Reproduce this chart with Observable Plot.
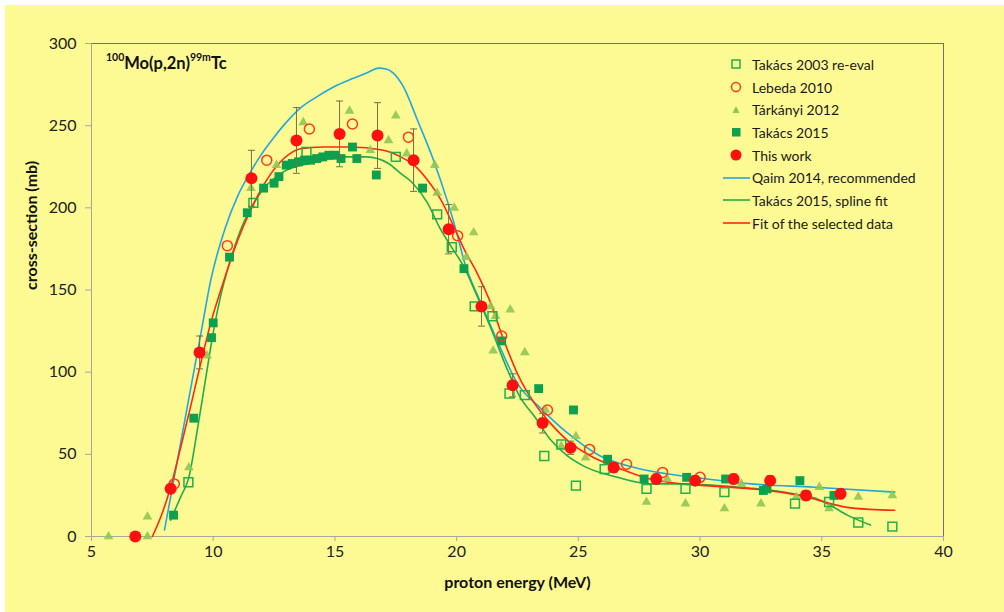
<!DOCTYPE html>
<html>
<head>
<meta charset="utf-8">
<script src="https://cdn.jsdelivr.net/npm/d3@7"></script>
<script src="https://cdn.jsdelivr.net/npm/@observablehq/plot@0.6"></script>
<style>
  html, body { margin: 0; padding: 0; background: #ffffff; }
  #wrap { position: relative; width: 1004px; height: 612px; overflow: hidden; font-family: Lato, "Open Sans", sans-serif; }
  #panel { position: absolute; left: 5px; top: 5px; right: 0; bottom: 0; background: #fdf993; }
  #chart { position: absolute; left: 0; top: 0; }
  #title { position: absolute; left: 106px; top: 52px; font-weight: bold; font-size: 16.5px; color: #111; white-space: nowrap; }
  #title sup { font-size: 10.5px; position: relative; top: -1px; }
  #legend { position: absolute; left: 722px; top: 53px; font-size: 14px; color: #1a1a1a; }
  #legend .row { height: 22.7px; display: flex; align-items: center; white-space: nowrap; }
  #legend svg { width: 28px; height: 14px; margin-right: 2px; }
</style>
</head>
<body>
<div id="wrap">
  <div id="panel"></div>
  <div id="chart"></div>
  <div id="title"><sup>100</sup>Mo(p,2n)<sup>99m</sup>Tc</div>
  <div id="legend"></div>
</div>
<script>
// Measured points: [energy (MeV), cross-section (mb)]
const takacs2003 = [
  [8.98, 33], [11.65, 203], [13.83, 234], [17.5, 231], [19.2, 196], [19.8, 176],
  [20.74, 140], [21.47, 134], [22.17, 87], [22.8, 86], [23.6, 49], [24.3, 56],
  [24.9, 31], [26.08, 41], [27.8, 29], [29.4, 29], [31.0, 27], [33.9, 20],
  [35.3, 21], [36.5, 8.5], [37.9, 6]
];
const lebeda2010 = [
  [8.4, 32], [10.58, 177], [12.2, 229], [13.95, 248], [15.72, 251], [18.02, 243],
  [20.04, 183], [21.85, 122], [23.73, 77], [25.46, 53], [26.98, 44], [28.46, 39], [30.0, 36]
];
const tarkanyi2012 = [
  [5.7, 0], [7.3, 0], [7.3, 12], [9.0, 42], [9.75, 110], [11.55, 212], [12.6, 226],
  [13.7, 252], [15.6, 259], [16.45, 235], [17.2, 241], [17.5, 256], [17.95, 233],
  [19.1, 226], [19.2, 209], [19.9, 200], [20.4, 170], [20.7, 185], [21.4, 140],
  [21.6, 134], [22.2, 138], [21.5, 113], [22.8, 112], [23.65, 77], [24.3, 55],
  [24.9, 61], [25.3, 48], [27.8, 21], [28.65, 35], [29.4, 20], [31.0, 17],
  [31.7, 32], [32.5, 20], [33.95, 24], [34.9, 30], [35.3, 17], [36.5, 24], [37.9, 25]
];
const takacs2015 = [
  [8.37, 13], [9.2, 72], [9.93, 121], [10.0, 130], [10.67, 170], [11.4, 197],
  [12.07, 212], [12.5, 215], [12.7, 219], [13.0, 226], [13.25, 227], [13.5, 228],
  [13.75, 229], [14.0, 229], [14.25, 230], [14.5, 231], [14.75, 232], [15.0, 232],
  [15.25, 230], [15.72, 237], [15.9, 230], [16.7, 220], [18.6, 212], [20.3, 163],
  [21.85, 119], [23.37, 90], [24.8, 77], [26.2, 47], [27.7, 35], [29.45, 36],
  [31.05, 35], [32.6, 28], [32.75, 29], [34.1, 34], [35.5, 25]
];
// This work: [energy, cross-section, uncertainty]
const thisWork = [
  [6.8, 0, 0], [8.25, 29, 2], [9.44, 112, 10], [11.57, 218, 17], [13.42, 241, 20],
  [15.19, 245, 20], [16.75, 244, 20], [18.23, 229, 19], [19.67, 187, 15],
  [21.02, 140, 12], [22.3, 92, 7], [23.53, 69, 6], [24.68, 54, 4], [26.45, 42, 3],
  [28.2, 35, 3], [29.8, 34, 3], [31.38, 35, 3], [32.88, 34, 3], [34.35, 25, 3], [35.77, 26, 3]
];

// Curves
const qaim2014 = [
  [8.0, 4], [8.5, 44], [9.0, 84], [9.5, 124], [9.9, 156], [10.5, 188], [11.0, 207],
  [11.5, 221], [12.0, 233], [12.5, 243], [13.0, 252], [13.6, 261], [14.3, 268],
  [15.0, 274], [15.7, 278.5], [16.3, 282], [16.8, 285], [17.1, 284.5], [17.4, 282],
  [17.8, 274], [18.4, 253], [19.05, 229], [19.6, 205], [20.0, 185], [20.3, 168],
  [21.0, 142], [21.7, 118], [22.5, 93], [23.45, 78], [24.55, 63], [25.9, 49],
  [27.3, 42], [28.7, 38], [30.3, 35], [32.1, 32], [34.7, 30], [38.0, 27]
];
const takacs2015Fit = [
  [8.25, 10], [8.66, 24], [9.0, 36], [9.35, 65], [9.7, 97], [10.0, 124], [10.3, 146],
  [10.6, 163], [11.25, 191], [11.94, 209], [12.9, 222], [14.3, 228], [15.2, 231],
  [16.3, 231], [17.2, 227], [17.7, 221], [18.2, 215], [18.8, 203], [19.3, 188],
  [19.75, 177], [20.3, 164], [20.85, 146], [21.4, 127], [22.1, 101], [22.6, 85],
  [23.2, 73], [23.85, 59], [24.55, 49], [25.2, 43], [26.6, 36], [27.95, 32],
  [29.3, 32], [30.7, 31], [32.0, 29.5], [33.0, 28], [34.0, 25.6], [34.8, 23],
  [35.35, 19], [36.05, 13], [37.0, 7]
];
const selectedFit = [
  [7.5, 0], [7.9, 14], [8.25, 30], [8.66, 54], [9.07, 79], [9.48, 105], [9.9, 130],
  [10.4, 154], [11.0, 180], [11.55, 199], [12.2, 217], [12.9, 230], [13.6, 236],
  [14.5, 237], [15.6, 237], [17.0, 235], [17.7, 231], [18.25, 226], [18.8, 217],
  [19.35, 205], [19.9, 188], [20.3, 175], [20.85, 160], [21.4, 142], [21.9, 121],
  [22.5, 99], [23.2, 81], [23.85, 69], [24.55, 58.5], [25.5, 49], [26.6, 42],
  [27.95, 35], [29.3, 32], [30.7, 30.5], [32.1, 29], [33.3, 27], [34.65, 23],
  [35.35, 20], [36.05, 17.7], [37.0, 16.5], [38.0, 16]
];

const xTicks = [5, 10, 15, 20, 25, 30, 35, 40];
const yTicks = [0, 50, 100, 150, 200, 250, 300];

const colors = {
  takacs2003: "#1fb14c",
  lebeda: "#ff3a1c",
  tarkanyi: "#8ec655",
  takacs2015: "#0da04e",
  thisWork: "#ff1010",
  qaim: "#22a8e0",
  spline: "#22ad4a",
  fit: "#ff2a14",
  err: "#75704a"
};

// Horizontal cap for the uncertainty bars
const capSymbol = {
  draw(ctx, size) {
    const w = Math.sqrt(size / Math.PI);
    ctx.moveTo(-w, 0);
    ctx.lineTo(w, 0);
  }
};

const X = d => d[0], Y = d => d[1];
const withErr = thisWork.filter(d => d[2] > 0);

const chart = Plot.plot({
  width: 1004,
  height: 612,
  marginLeft: 91,
  marginRight: 61,
  marginTop: 43,
  marginBottom: 76,
  style: { background: "transparent", fontFamily: "Lato, 'Open Sans', sans-serif", fontSize: "16px", color: "#222" },
  x: { domain: [5, 40], ticks: xTicks },
  y: { domain: [0, 300], ticks: yTicks },
  marks: [
    Plot.frame({ stroke: "#707070", strokeWidth: 1 }),
    Plot.ruleY([0], { stroke: "#a6a6a6" }),
    Plot.ruleX([5], { stroke: "#a6a6a6" }),
    Plot.axisX({ ticks: xTicks, tickSize: 5, tickPadding: 4, stroke: "#a6a6a6", fill: "#222", label: null }),
    Plot.axisY({ ticks: yTicks, tickSize: 6, tickPadding: 9, stroke: "#a6a6a6", fill: "#222", label: null }),
    Plot.text(["proton energy (MeV)"], { frameAnchor: "bottom", dy: 51, fontWeight: "bold", fontSize: 16, fill: "#111" }),
    Plot.text(["cross-section (mb)"], { frameAnchor: "left", dx: -60, rotate: -90, fontWeight: "bold", fontSize: 16, fill: "#111" }),

    Plot.line(qaim2014, { x: X, y: Y, stroke: colors.qaim, strokeWidth: 1.6, curve: "monotone-x" }),
    Plot.line(takacs2015Fit, { x: X, y: Y, stroke: colors.spline, strokeWidth: 1.6, curve: "monotone-x" }),
    Plot.line(selectedFit, { x: X, y: Y, stroke: colors.fit, strokeWidth: 1.6, curve: "monotone-x" }),

    Plot.dot(tarkanyi2012, { x: X, y: Y, symbol: "triangle", r: 3.6, fill: colors.tarkanyi, fillOpacity: 0.9, stroke: "none" }),
    Plot.dot(takacs2003, { x: X, y: Y, symbol: "square", r: 5, fill: "none", stroke: colors.takacs2003, strokeWidth: 1.5 }),
    Plot.dot(takacs2015, { x: X, y: Y, symbol: "square", r: 5, fill: colors.takacs2015, stroke: "none" }),
    Plot.dot(lebeda2010, { x: X, y: Y, r: 5, fill: "none", stroke: colors.lebeda, strokeWidth: 1.5 }),

    Plot.ruleX(withErr, { x: X, y1: d => d[1] - d[2], y2: d => d[1] + d[2], stroke: colors.err, strokeWidth: 1 }),
    Plot.dot(withErr, { x: X, y: d => d[1] + d[2], symbol: capSymbol, r: 3.5, fill: "none", stroke: colors.err, strokeWidth: 1 }),
    Plot.dot(withErr, { x: X, y: d => d[1] - d[2], symbol: capSymbol, r: 3.5, fill: "none", stroke: colors.err, strokeWidth: 1 }),
    Plot.dot(thisWork, { x: X, y: Y, r: 6, fill: colors.thisWork, stroke: "none" })
  ]
});
document.getElementById("chart").appendChild(chart);

// Legend
const legendItems = [
  { label: "Takács 2003 re-eval", kind: "openSquare", color: colors.takacs2003 },
  { label: "Lebeda 2010", kind: "openCircle", color: colors.lebeda },
  { label: "Tárkányi 2012", kind: "triangle", color: colors.tarkanyi },
  { label: "Takács 2015", kind: "square", color: colors.takacs2015 },
  { label: "This work", kind: "circle", color: colors.thisWork },
  { label: "Qaim 2014, recommended", kind: "line", color: colors.qaim },
  { label: "Takács 2015, spline fit", kind: "line", color: colors.spline },
  { label: "Fit of the selected data", kind: "line", color: colors.fit }
];
const swatch = {
  openSquare: c => `<rect x="10" y="3" width="8" height="8" fill="none" stroke="${c}" stroke-width="1.5"/>`,
  openCircle: c => `<circle cx="14" cy="7" r="4.5" fill="none" stroke="${c}" stroke-width="1.5"/>`,
  triangle: c => `<path d="M14,3 L17.5,10 L10.5,10 Z" fill="${c}"/>`,
  square: c => `<rect x="10" y="3" width="8.5" height="8.5" fill="${c}"/>`,
  circle: c => `<circle cx="14" cy="7" r="5.5" fill="${c}"/>`,
  line: c => `<line x1="1" y1="7" x2="28" y2="7" stroke="${c}" stroke-width="1.6"/>`
};
const legend = document.getElementById("legend");
for (const item of legendItems) {
  const row = document.createElement("div");
  row.className = "row";
  row.innerHTML = `<svg viewBox="0 0 28 14">${swatch[item.kind](item.color)}</svg><span>${item.label}</span>`;
  legend.appendChild(row);
}
</script>
</body>
</html>
